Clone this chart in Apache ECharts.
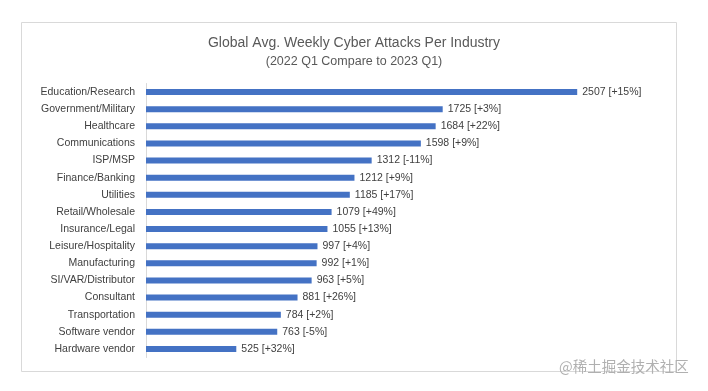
<!DOCTYPE html>
<html>
<head>
<meta charset="utf-8">
<script src="https://cdn.jsdelivr.net/npm/echarts@6/dist/echarts.min.js"></script>
<style>
html,body{margin:0;padding:0;background:#fff;}
#c{width:708px;height:391px;}
</style>
</head>
<body>
<div id="c"></div>
<script>
const categories = ["Education/Research","Government/Military","Healthcare","Communications","ISP/MSP","Finance/Banking","Utilities","Retail/Wholesale","Insurance/Legal","Leisure/Hospitality","Manufacturing","SI/VAR/Distributor","Consultant","Transportation","Software vendor","Hardware vendor"];
const attacks = [2507,1725,1684,1598,1312,1212,1185,1079,1055,997,992,963,881,784,763,525];
const changes = ["+15%","+3%","+22%","+9%","-11%","+9%","+17%","+49%","+13%","+4%","+1%","+5%","+26%","+2%","-5%","+32%"];
const titleText = "Global Avg. Weekly Cyber Attacks Per Industry";
const subtitleText = "(2022 Q1 Compare to 2023 Q1)";
const watermark = "@稀土掘金技术社区";

const chart = echarts.init(document.getElementById('c'), null, {renderer:'canvas'});
const font = "'Liberation Sans', Arial, sans-serif";
chart.setOption({
  backgroundColor:'#fff',
  animation:false,
  title:{
    text:titleText,
    subtext:subtitleText,
    left:'center', top:31,
    itemGap:5,
    textStyle:{fontFamily:font,fontSize:14,fontWeight:'normal',color:'#595959'},
    subtextStyle:{fontFamily:font,fontSize:12.5,color:'#595959'}
  },
  graphic:[
    {type:'rect',shape:{x:21.5,y:22.5,width:655,height:349},style:{fill:'none',stroke:'#d9d9d9',lineWidth:1},z:-1},
    {type:'text',left:559,top:359,style:{text:watermark,fill:'#b0b0b0',font:"14.5px 'Noto Sans CJK SC', sans-serif"},z:10}
  ],
  grid:{left:146,top:83.5,width:516,height:274,containLabel:false},
  xAxis:{type:'value',min:0,max:3000,show:false},
  yAxis:{
    type:'category',data:categories,inverse:true,
    axisLine:{show:true,lineStyle:{color:'#d9d9d9'}},
    axisTick:{show:false},
    axisLabel:{fontFamily:font,fontSize:10.5,color:'#404040',margin:11}
  },
  series:[{
    type:'bar',data:attacks,barWidth:6,
    itemStyle:{color:'#4472C4'},
    label:{show:true,position:'right',distance:5,fontFamily:font,fontSize:10.5,color:'#404040',
      formatter:p=>p.value+' ['+changes[p.dataIndex]+']'}
  }]
});
</script>
</body>
</html>
